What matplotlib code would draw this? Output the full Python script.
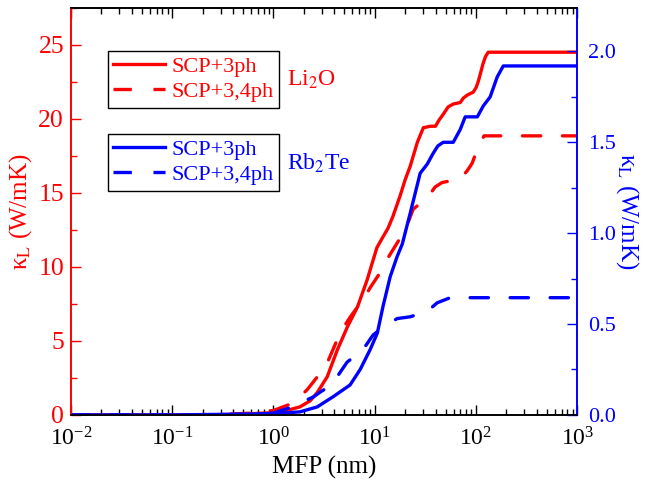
import matplotlib
matplotlib.use("Agg")
import matplotlib.pyplot as plt
from matplotlib.lines import Line2D
from matplotlib.ticker import MultipleLocator, LogLocator, NullFormatter, FormatStrFormatter

plt.rcParams['font.family'] = 'serif'
plt.rcParams['font.serif'] = ['Liberation Serif', 'DejaVu Serif']
plt.rcParams['mathtext.fontset'] = 'stix'
plt.rcParams['axes.unicode_minus'] = False

RED = '#ff0000'
BLUE = '#0000ff'

# cumulative kappa vs MFP (nm)
# Li2O, left axis
li_3ph_mfp = [0.01, 0.1, 0.32, 0.59, 1.0, 1.26, 1.82, 2.3, 2.69, 3.39, 4.27, 5.37, 6.76, 8.41,
              10.5, 12.0, 13.5, 15.1, 17.8, 20.0, 22.4, 26.3, 30.2, 35.5, 39.8, 43.0, 47.4,
              53.0, 59.6, 69.8, 75.0, 81.8, 93.8, 100, 105, 111, 117, 124, 132, 1000]
li_3ph_k = [0.0, 0.0, 0.02, 0.08, 0.15, 0.25, 0.54, 0.95, 1.49, 2.57, 4.39, 5.95, 7.3, 9.12,
            11.3, 12.0, 12.6, 13.4, 14.8, 15.9, 16.8, 18.4, 19.4, 19.5, 19.5, 19.9, 20.3,
            20.8, 21.0, 21.1, 21.4, 21.6, 21.8, 22.1, 22.5, 23.1, 23.7, 24.2, 24.5, 24.5]

li_34ph_mfp = [0.01, 0.1, 0.32, 0.59, 1.0, 1.56, 2.15, 2.88, 3.39, 4.27, 4.9, 5.71, 8.04,
               9.02, 11.8, 13.2, 16.6, 20.0, 24.0, 29.4, 35.0, 39.5, 46.3, 55.0, 69.8, 73.1,
               82.0, 91.6, 105, 120, 1000]
li_34ph_k = [0.0, 0.0, 0.03, 0.12, 0.3, 0.8, 1.7, 2.8, 3.5, 5.1, 5.9, 6.6, 8.0,
             8.6, 9.8, 10.5, 11.6, 12.5, 13.9, 14.4, 14.9, 15.4, 15.7, 15.8, 15.9, 16.1,
             16.5, 17.0, 18.1, 18.85, 18.85]

# Rb2Te, right axis
rb_3ph_mfp = [0.01, 0.1, 0.59, 1.24, 1.83, 2.70, 3.88, 5.71, 7.18, 9.02, 10.6, 12.1, 14.2,
              16.6, 18.7, 22.4, 28.1, 33.0, 37.8, 42.0, 47.4, 59.6, 69.8, 78.2, 103, 118,
              138, 162, 186, 1000]
rb_3ph_k = [0.0, 0.0, 0.005, 0.01, 0.017, 0.044, 0.1, 0.165, 0.25, 0.36, 0.45, 0.6, 0.76,
            0.87, 0.94, 1.11, 1.33, 1.38, 1.44, 1.48, 1.50, 1.50, 1.57, 1.64, 1.64, 1.70,
            1.75, 1.86, 1.92, 1.92]

rb_34ph_mfp = [0.01, 0.1, 0.59, 1.0, 1.46, 1.83, 2.5, 2.88, 3.39, 4.25, 5.33, 7.67, 9.64,
               11.3, 16.6, 22.4, 33.0, 41.4, 55.6, 1000]
rb_34ph_k = [0.0, 0.0, 0.003, 0.01, 0.04, 0.066, 0.1, 0.125, 0.15, 0.21, 0.29, 0.36, 0.44,
             0.47, 0.53, 0.54, 0.57, 0.617, 0.645, 0.645]

fig = plt.figure(figsize=(6.45, 4.87), dpi=100)
ax = fig.add_axes([0.110, 0.148, 0.785, 0.836])
ax2 = ax.twinx()

lw = 2.4
dash = (0, (5.5, 6.5))
line_kw = dict(lw=lw, solid_joinstyle='round', solid_capstyle='round', dash_capstyle='round')
ax.plot(li_3ph_mfp, li_3ph_k, color=RED, **line_kw)
ax.plot(li_34ph_mfp, li_34ph_k, color=RED, ls=dash, **line_kw)
ax2.plot(rb_3ph_mfp, rb_3ph_k, color=BLUE, **line_kw)
ax2.plot(rb_34ph_mfp, rb_34ph_k, color=BLUE, ls=dash, **line_kw)

ax.set_xscale('log')
ax.set_xlim(0.01, 1000)
ax.set_ylim(0, 27.5)
ax2.set_ylim(0, 2.24)

ax.xaxis.set_major_locator(LogLocator(base=10, numticks=10))
ax.xaxis.set_minor_locator(LogLocator(base=10, subs=range(2, 10), numticks=20))
ax.xaxis.set_minor_formatter(NullFormatter())
ax.yaxis.set_major_locator(MultipleLocator(5))
ax.yaxis.set_minor_locator(MultipleLocator(2.5))
ax2.yaxis.set_major_locator(MultipleLocator(0.5))
ax2.yaxis.set_minor_locator(MultipleLocator(0.25))
ax2.yaxis.set_major_formatter(FormatStrFormatter('%.1f'))

ax.tick_params(axis='x', which='both', direction='in', top=True, labelsize=17, pad=9)
ax.tick_params(axis='x', which='major', length=7, width=1)
ax.tick_params(axis='x', which='minor', length=4, width=1)
ax.tick_params(axis='y', which='both', direction='in', colors=RED, labelsize=18.5, width=1)
ax.tick_params(axis='y', which='major', length=7, pad=5)
ax.tick_params(axis='y', which='minor', length=4)
ax2.tick_params(axis='y', which='both', direction='in', colors=BLUE, labelsize=16, width=1)
ax2.tick_params(axis='y', which='major', length=7, pad=8)
ax2.tick_params(axis='y', which='minor', length=4)

for a in (ax, ax2):
    a.spines['left'].set_color(RED)
    a.spines['right'].set_color(BLUE)
    for s in a.spines.values():
        s.set_linewidth(1.2)

ax.set_xlabel('MFP (nm)', fontsize=18, labelpad=4)
ax.set_ylabel('κ$_\\mathrm{L}$ (W/mK)', fontsize=18, color=RED, labelpad=3)
ax2.set_ylabel('κ$_\\mathrm{L}$ (W/mK)', fontsize=18, color=BLUE, rotation=270, labelpad=18)

# two separate legend boxes
leg_kw = dict(loc='upper left', fontsize=16, frameon=True, fancybox=False, edgecolor='black',
              framealpha=1, handlelength=2.3, handletextpad=0.3, borderpad=0.25,
              labelspacing=0.2, borderaxespad=0)
h_li = [Line2D([], [], color=RED, lw=lw), Line2D([], [], color=RED, lw=lw, ls=dash)]
leg1 = ax.legend(h_li, ['SCP+3ph', 'SCP+3,4ph'], bbox_to_anchor=(0.073, 0.894),
                 labelcolor=RED, **leg_kw)
leg1.get_frame().set_linewidth(1.0)
ax.add_artist(leg1)
h_rb = [Line2D([], [], color=BLUE, lw=lw), Line2D([], [], color=BLUE, lw=lw, ls=dash)]
leg2 = ax.legend(h_rb, ['SCP+3ph', 'SCP+3,4ph'], bbox_to_anchor=(0.073, 0.690),
                 labelcolor=BLUE, **leg_kw)
leg2.get_frame().set_linewidth(1.0)

ax.text(0.427, 0.823, r'Li$_2$O', transform=ax.transAxes, color=RED, fontsize=17, va='center')
ax.text(0.427, 0.619, r'Rb$_2$Te', transform=ax.transAxes, color=BLUE, fontsize=17, va='center')

fig.savefig('out.png', dpi=100)
